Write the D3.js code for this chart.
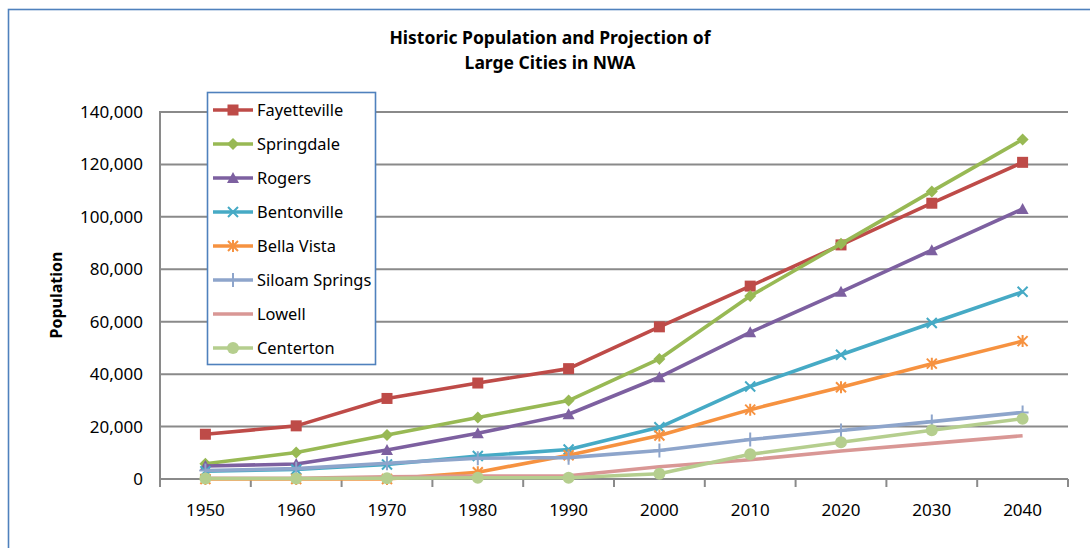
<!DOCTYPE html>
<html>
<head>
<meta charset="utf-8">
<script src="https://cdn.jsdelivr.net/npm/d3@7"></script>
<style>
  body { margin: 0; background: #fff; }
  svg { display: block; font-family: "Noto Sans", sans-serif; }
</style>
</head>
<body>
<div id="chart-container"></div>
<script>
// chart data (census years + projections)
const years = ['1950', '1960', '1970', '1980', '1990', '2000', '2010', '2020', '2030', '2040'];
const fayetteville = [17071, 20274, 30729, 36608, 42099, 58047, 73580, 89300, 105200, 120800];
const springdale = [5835, 10076, 16783, 23458, 29941, 45798, 69797, 89700, 109700, 129500];
const rogers = [4962, 5700, 11050, 17429, 24692, 38829, 55964, 71400, 87300, 103000];
const bentonville = [2942, 3649, 5508, 8756, 11257, 19730, 35301, 47400, 59500, 71400];
const bellaVista = [0, 0, 0, 2589, 9083, 16582, 26461, 35000, 44000, 52600];
const siloamSprings = [3270, 3953, 6009, 7940, 8151, 10843, 15039, 18500, 21900, 25400];
const lowell = [300, 280, 800, 1078, 1224, 4700, 7327, 10700, 13600, 16500];
const centerton = [200, 200, 300, 500, 500, 2000, 9400, 14000, 18600, 23000];
const yTicks = [0, 20000, 40000, 60000, 80000, 100000, 120000, 140000];

const seriesNames = ['Fayetteville', 'Springdale', 'Rogers', 'Bentonville', 'Bella Vista', 'Siloam Springs', 'Lowell', 'Centerton'];
const seriesValues = [fayetteville, springdale, rogers, bentonville, bellaVista, siloamSprings, lowell, centerton];
const colors = ['#BE4B48', '#98B954', '#7D60A0', '#46AAC5', '#F69240', '#8EA5CB', '#D99795', '#B5CE8E'];
const markers = ['square', 'diamond', 'triangle', 'x', 'star', 'plus', 'none', 'circle'];

const width = 1090, height = 548;
const plot = { left: 160, right: 1068, top: 112, bottom: 479 };

const svg = d3.select('#chart-container')
  .append('svg')
  .attr('width', width)
  .attr('height', height);

// outer chart frame
svg.append('rect')
  .attr('x', 8.5).attr('y', 9.5)
  .attr('width', 1200).attr('height', 700)
  .attr('fill', '#fff')
  .attr('stroke', '#4F81BD')
  .attr('stroke-width', 1.6);

const xScale = d3.scaleBand()
  .domain(years)
  .range([plot.left, plot.right])
  .padding(0);
const xPos = d => xScale(d) + xScale.bandwidth() / 2;

const yScale = d3.scaleLinear()
  .domain([0, 140000])
  .range([plot.bottom, plot.top]);

// gridlines
svg.append('g')
  .attr('class', 'grid')
  .selectAll('line')
  .data(yTicks.slice(1))
  .join('line')
  .attr('x1', plot.left).attr('x2', plot.right)
  .attr('y1', d => yScale(d)).attr('y2', d => yScale(d))
  .attr('stroke', '#8a8a8a')
  .attr('stroke-width', 2);

// y axis
const yAxis = svg.append('g')
  .attr('class', 'y-axis')
  .attr('transform', `translate(${plot.left},0)`)
  .call(d3.axisLeft(yScale).tickValues(yTicks).tickSize(0).tickPadding(17).tickFormat(d3.format(',')));
yAxis.select('.domain')
  .attr('d', `M0,${plot.top - 1}V${plot.bottom + 8}`)
  .attr('stroke', '#8a8a8a')
  .attr('stroke-width', 2);
yAxis.selectAll('text')
  .attr('font-size', 17)
  .attr('fill', '#000')
  .attr('font-family', '"Noto Sans", sans-serif');

// x axis with tick marks at category boundaries
const xAxis = svg.append('g')
  .attr('class', 'x-axis')
  .attr('transform', `translate(0,${plot.bottom})`);
xAxis.append('line')
  .attr('x1', plot.left).attr('x2', plot.right)
  .attr('stroke', '#8a8a8a')
  .attr('stroke-width', 2);
xAxis.selectAll('.tick-mark')
  .data(d3.range(years.length + 1))
  .join('line')
  .attr('class', 'tick-mark')
  .attr('x1', i => plot.left + i * xScale.step())
  .attr('x2', i => plot.left + i * xScale.step())
  .attr('y1', 0).attr('y2', 8)
  .attr('stroke', '#8a8a8a')
  .attr('stroke-width', 2);
xAxis.selectAll('.label')
  .data(years)
  .join('text')
  .attr('class', 'label')
  .attr('x', d => xPos(d))
  .attr('y', 37)
  .attr('text-anchor', 'middle')
  .attr('font-size', 17)
  .text(d => d);

// marker drawing
function drawMarker(g, type, color) {
  if (type === 'square') {
    g.append('rect').attr('x', -5.5).attr('y', -5.5).attr('width', 11).attr('height', 11).attr('fill', color);
  } else if (type === 'diamond') {
    g.append('path').attr('d', 'M0,-6L6,0L0,6L-6,0Z').attr('fill', color);
  } else if (type === 'triangle') {
    g.append('path').attr('d', 'M0,-6L6,5L-6,5Z').attr('fill', color);
  } else if (type === 'circle') {
    g.append('circle').attr('r', 6).attr('fill', color);
  } else if (type === 'x') {
    g.append('path').attr('d', 'M-5,-5L5,5M-5,5L5,-5').attr('stroke', color).attr('stroke-width', 2);
  } else if (type === 'star') {
    g.append('path').attr('d', 'M-5,-5L5,5M-5,5L5,-5M0,-6V6').attr('stroke', color).attr('stroke-width', 2);
  } else if (type === 'plus') {
    g.append('path').attr('d', 'M0,-7V7M-6,0H6').attr('stroke', color).attr('stroke-width', 2);
  }
}

const line = d3.line()
  .x((d, i) => xPos(years[i]))
  .y(d => yScale(d));

seriesValues.forEach((values, s) => {
  const g = svg.append('g').attr('class', 'series');
  g.append('path')
    .datum(values)
    .attr('fill', 'none')
    .attr('stroke', colors[s])
    .attr('stroke-width', 3.6)
    .attr('stroke-linejoin', 'round')
    .attr('d', line);
  values.forEach((v, i) => {
    const m = g.append('g').attr('transform', `translate(${xPos(years[i])},${yScale(v)})`);
    drawMarker(m, markers[s], colors[s]);
  });
});

// title
const title = svg.append('text')
  .attr('x', 550)
  .attr('text-anchor', 'middle')
  .attr('font-weight', 'bold')
  .attr('font-size', 17.5);
title.append('tspan').attr('x', 550).attr('y', 44).text('Historic Population and Projection of');
title.append('tspan').attr('x', 550).attr('y', 69).text('Large Cities in NWA');

// y axis title
svg.append('text')
  .attr('transform', 'translate(62,295) rotate(-90)')
  .attr('text-anchor', 'middle')
  .attr('font-weight', 'bold')
  .attr('font-size', 16)
  .text('Population');

// legend
const legend = svg.append('g').attr('class', 'legend');
legend.append('rect')
  .attr('x', 207.5).attr('y', 92.5)
  .attr('width', 168).attr('height', 272)
  .attr('fill', '#fff')
  .attr('stroke', '#4F81BD')
  .attr('stroke-width', 1.6);
seriesNames.forEach((name, s) => {
  const y = 110 + s * 34;
  const row = legend.append('g');
  row.append('line')
    .attr('x1', 213).attr('x2', 253)
    .attr('y1', y).attr('y2', y)
    .attr('stroke', colors[s])
    .attr('stroke-width', 3.6);
  const m = row.append('g').attr('transform', `translate(233,${y})`);
  drawMarker(m, markers[s], colors[s]);
  row.append('text')
    .attr('x', 257)
    .attr('y', y)
    .attr('dy', '0.35em')
    .attr('font-size', 16.4)
    .text(name);
});
</script>
</body>
</html>
